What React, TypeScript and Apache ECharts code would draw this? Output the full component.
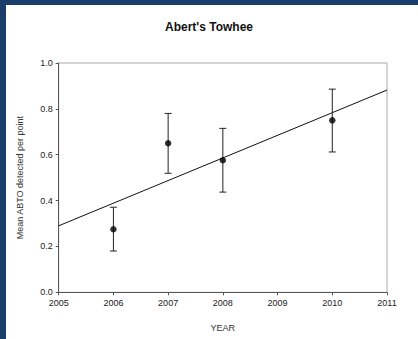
import React, { useEffect, useRef } from "react";
import * as echarts from "echarts";

const years = [2006, 2007, 2008, 2010];
const means = [0.275, 0.65, 0.576, 0.75];
const lows = [0.18, 0.519, 0.437, 0.612];
const highs = [0.371, 0.78, 0.715, 0.886];
const trendX = [2005, 2011];
const trendY = [0.29, 0.882];

export default function App() {
  const ref = useRef<HTMLDivElement>(null);
  useEffect(() => {
    if (!ref.current) return;
    const chart = echarts.init(ref.current, undefined, { renderer: "svg" });
    const font = "Liberation Sans, Arial, sans-serif";
    chart.setOption({
      animation: false,
      backgroundColor: "#1b3d6b",
      graphic: [
        {
          type: "rect",
          z: -10,
          shape: { x: 6, y: 5, width: 412, height: 334 },
          style: { fill: "#ffffff" },
          silent: true,
        },
      ],
      title: {
        text: "Abert's Towhee",
        left: "center",
        top: 16,
        textStyle: { fontFamily: font, fontSize: 12, fontWeight: "bold", color: "#111" },
      },
      grid: {
        left: 58.7,
        right: 31,
        top: 63,
        bottom: 46.7,
        show: true,
        borderColor: "#aaaaaa",
        borderWidth: 1,
        backgroundColor: "transparent",
      },
      xAxis: {
        type: "value",
        min: 2005,
        max: 2011,
        interval: 1,
        name: "YEAR",
        nameLocation: "middle",
        nameGap: 31,
        nameTextStyle: { fontFamily: font, fontSize: 9, color: "#333" },
        axisLine: { show: true, lineStyle: { color: "#555", width: 1 } },
        axisTick: { show: true, inside: false, length: 3, lineStyle: { color: "#555" } },
        axisLabel: {
          fontFamily: font,
          fontSize: 9,
          color: "#222",
          margin: 6,
          formatter: (v: number) => String(Math.round(v)),
        },
        splitLine: { show: false },
      },
      yAxis: {
        type: "value",
        min: 0,
        max: 1,
        interval: 0.2,
        name: "Mean ABTO detected per point",
        nameLocation: "middle",
        nameGap: 34,
        nameTextStyle: { fontFamily: font, fontSize: 9, color: "#333" },
        axisLine: { show: true, lineStyle: { color: "#555", width: 1 } },
        axisTick: { show: true, inside: false, length: 3, lineStyle: { color: "#555" } },
        axisLabel: {
          fontFamily: font,
          fontSize: 9,
          color: "#222",
          margin: 6,
          formatter: (v: number) => v.toFixed(1),
        },
        splitLine: { show: false },
      },
      series: [
        {
          type: "line",
          data: trendX.map((x, i) => [x, trendY[i]]),
          showSymbol: false,
          symbol: "none",
          lineStyle: { color: "#111", width: 1 },
          z: 2,
        },
        {
          type: "custom",
          data: years.map((y, i) => [y, lows[i], highs[i]]),
          renderItem: (params: any, api: any) => {
            const x = api.value(0);
            const lo = api.coord([x, api.value(1)]);
            const hi = api.coord([x, api.value(2)]);
            const w = 3.5;
            const style = { stroke: "#222", lineWidth: 1 };
            return {
              type: "group",
              children: [
                { type: "line", shape: { x1: lo[0], y1: lo[1], x2: hi[0], y2: hi[1] }, style },
                { type: "line", shape: { x1: lo[0] - w, y1: lo[1], x2: lo[0] + w, y2: lo[1] }, style },
                { type: "line", shape: { x1: hi[0] - w, y1: hi[1], x2: hi[0] + w, y2: hi[1] }, style },
              ],
            };
          },
          z: 3,
        },
        {
          type: "scatter",
          data: years.map((y, i) => [y, means[i]]),
          symbol: "circle",
          symbolSize: 6.5,
          itemStyle: { color: "#000" },
          z: 4,
        },
      ],
    });
    return () => chart.dispose();
  }, []);
  return (
    <div
      ref={ref}
      style={{ position: "fixed", left: 0, top: 0, width: 418, height: 339 }}
    />
  );
}
